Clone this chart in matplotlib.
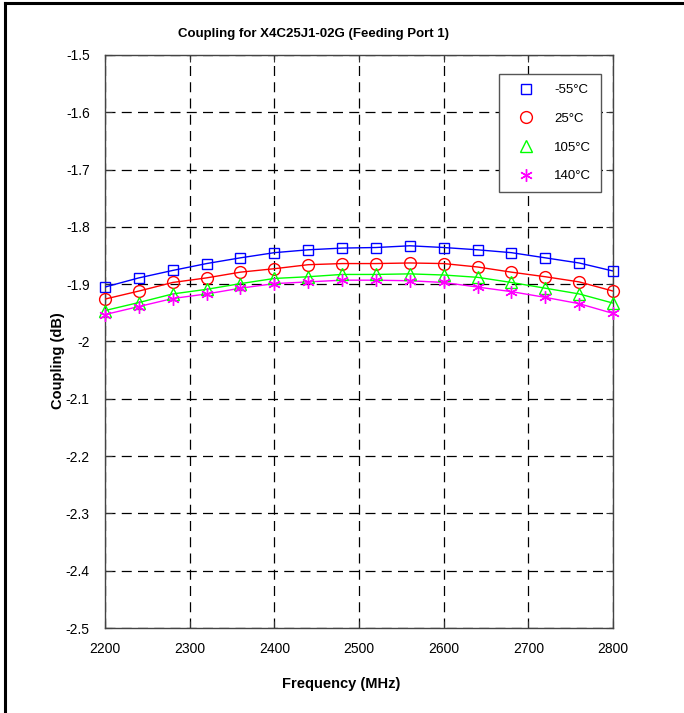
import numpy as np
import matplotlib.pyplot as plt
from matplotlib.lines import Line2D

# ---------------------------------------------
#               DATA
# ---------------------------------------------
freq = np.arange(2200, 2801, 40)  # MHz, marker positions

coupling_m55 = [-1.905, -1.889, -1.876, -1.864, -1.854, -1.845, -1.840, -1.837,
                -1.836, -1.833, -1.836, -1.840, -1.845, -1.854, -1.863, -1.877]
coupling_25 = [-1.926, -1.912, -1.897, -1.889, -1.879, -1.873, -1.866, -1.864,
               -1.864, -1.863, -1.864, -1.870, -1.879, -1.887, -1.896, -1.912]
coupling_105 = [-1.946, -1.932, -1.917, -1.909, -1.899, -1.890, -1.887, -1.883,
                -1.883, -1.882, -1.884, -1.888, -1.897, -1.907, -1.917, -1.933]
coupling_140 = [-1.953, -1.939, -1.925, -1.917, -1.907, -1.899, -1.896, -1.893,
                -1.893, -1.894, -1.897, -1.905, -1.913, -1.923, -1.934, -1.951]

labels = ['-55°C', '25°C', '105°C', '140°C']
xticks = [2200, 2300, 2400, 2500, 2600, 2700, 2800]
yticks = [-1.5, -1.6, -1.7, -1.8, -1.9, -2, -2.1, -2.2, -2.3, -2.4, -2.5]

# ---------------------------------------------
#               STYLE
# ---------------------------------------------
plt.rcParams['font.family'] = ['Liberation Sans', 'DejaVu Sans']

series = [
    (coupling_m55, '#0000ff', 's', 7),
    (coupling_25, '#ff0000', 'o', 8.5),
    (coupling_105, '#00ff00', '^', 9),
    (coupling_140, '#ff00ff', (6, 2, 0), 9),
]

fig = plt.figure(figsize=(6.84, 7.13), dpi=100)
ax = fig.add_axes([0.1535, 0.1192, 0.7427, 0.8037])

handles = []
for (vals, col, mk, ms), lab in zip(series, labels):
    ax.plot(freq, vals, color=col, lw=1.0, zorder=3)
    ax.plot(freq, vals, ls='none', marker=mk, ms=ms, mfc='none', mec=col,
            mew=1.0, clip_on=False, zorder=4)
    handles.append(Line2D([], [], ls='none', marker=mk, ms=ms, mfc='none',
                          mec=col, mew=1.0, label=lab))

ax.set_xlim(2200, 2800)
ax.set_ylim(-2.5, -1.5)
ax.set_xticks(xticks)
ax.set_xticklabels([str(t) for t in xticks])
ax.set_yticks(yticks)
ax.set_yticklabels([f'{t:g}' for t in yticks])
ax.tick_params(direction='in', length=5, width=0.8, top=True, right=True,
               labelsize=10, color='#333333')
ax.tick_params(axis='x', pad=10)
ax.tick_params(axis='y', pad=11)
ax.grid(True, color='black', ls=(0, (8, 5)), lw=0.9)
for s in ax.spines.values():
    s.set_color('#444444')
    s.set_linewidth(1.0)

# title sits left of the axes centre in the original
fig.text(314 / 684, 1 - 34 / 713, 'Coupling for X4C25J1-02G (Feeding Port 1)',
         fontsize=9.5, fontweight='bold', ha='center', va='center')
ax.set_xlabel('Frequency (MHz)', fontsize=10.5, fontweight='bold')
ax.xaxis.set_label_coords(0.465, -0.085)
ax.set_ylabel('Coupling (dB)', fontsize=10.5, fontweight='bold')
ax.yaxis.set_label_coords(-0.078, 0.466)

leg = ax.legend(handles=handles, loc='upper right',
                bbox_to_anchor=(601 / 684, 1 - 74 / 713),
                bbox_transform=fig.transFigure, borderaxespad=0,
                fontsize=9.5, frameon=True,
                fancybox=False, edgecolor='#555555', framealpha=1,
                labelspacing=1.25, handletextpad=0.8, borderpad=0.75,
                handlelength=2.6)
leg.get_frame().set_linewidth(1.0)

# outer frame (top and left only visible)
fig.add_artist(Line2D([5 / 684, 5 / 684], [0, 1 - 3 / 713], color='black',
                      lw=2.2, transform=fig.transFigure))
fig.add_artist(Line2D([5 / 684, 1], [1 - 3 / 713, 1 - 3 / 713], color='black',
                      lw=2.2, transform=fig.transFigure))

plt.savefig('out.png', dpi=100)
